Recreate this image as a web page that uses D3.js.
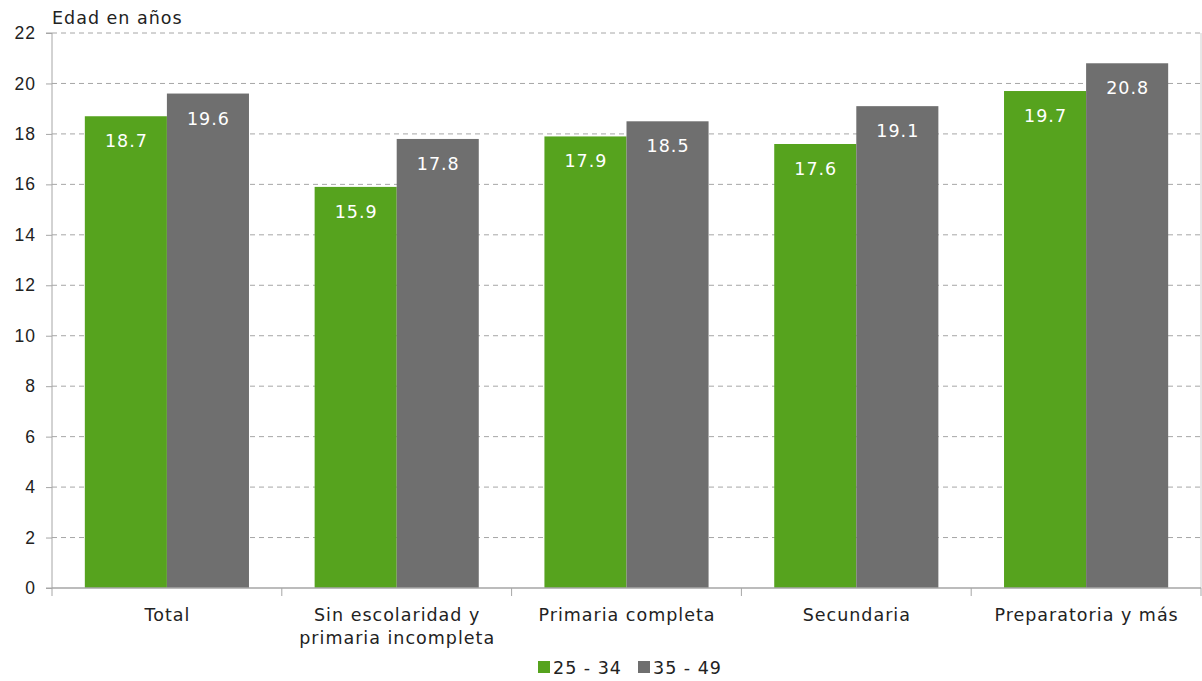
<!DOCTYPE html>
<html><head><meta charset="utf-8">
<script src="https://cdn.jsdelivr.net/npm/d3@7"></script>
<style>body{margin:0;background:#fff}svg{display:block;font-family:"DejaVu Sans",sans-serif}</style>
</head><body><svg id="c" width="1202" height="681"></svg>
<script>
const categories = [["Total"],["Sin escolaridad y","primaria incompleta"],["Primaria completa"],["Secundaria"],["Preparatoria y más"]];
const seriesNames = ["25 - 34","35 - 49"];
const s1 = [18.7,15.9,17.9,17.6,19.7];
const s2 = [19.6,17.8,18.5,19.1,20.8];
const yTicks = [0,2,4,6,8,10,12,14,16,18,20,22];
const colors = ["#56a31e","#6f6f6f"];

const FS = 17.5;
const LS = "1px";
const svg = d3.select("#c");
const L=52,R=1201,T=33,B=588;
const x = d3.scaleBand().domain(d3.range(categories.length)).range([L,R]).paddingInner(0).paddingOuter(0);
const y = d3.scaleLinear().domain([0,22]).range([B,T]);
const inner = d3.scaleBand().domain([0,1]).range([0,x.bandwidth()]).paddingOuter(0.4).paddingInner(0);

// gridlines
svg.append("g").selectAll("line").data(yTicks.filter(d=>d>0)).join("line")
 .attr("x1",L).attr("x2",R).attr("y1",d=>y(d)).attr("y2",d=>y(d))
 .attr("stroke","#a6a6a6").attr("stroke-width",1).attr("stroke-dasharray","5,4");
svg.append("line").attr("x1",R).attr("x2",R).attr("y1",T).attr("y2",B).attr("stroke","#d0d0d0");

// bars
const series=[s1,s2];
series.forEach((s,si)=>{
  svg.append("g").selectAll("rect").data(s).join("rect")
   .attr("x",(d,i)=>x(i)+inner(si)).attr("width",inner.bandwidth())
   .attr("y",d=>y(d)).attr("height",d=>B-y(d)).attr("fill",colors[si]);
  svg.append("g").selectAll("text").data(s).join("text")
   .attr("x",(d,i)=>x(i)+inner(si)+inner.bandwidth()/2+0.5).attr("y",d=>y(d)+31)
   .attr("text-anchor","middle").attr("fill","#fff").attr("font-size",FS).style("letter-spacing",LS)
   .text(d=>d.toFixed(1));
});

// y axis
const ya = d3.axisLeft(y).tickValues(yTicks).tickSize(6).tickPadding(10).tickFormat(d3.format("d"));
const gy = svg.append("g").attr("transform",`translate(${L},0)`).call(ya);
gy.selectAll("line,path").attr("stroke","#a6a6a6");
gy.select(".domain").attr("d",`M-6,${T}H0V${B}H-6`);
gy.selectAll("text").attr("font-size",FS).attr("fill","#222").style("font-family","inherit").style("letter-spacing",LS);

// x axis
svg.append("line").attr("x1",L).attr("x2",R).attr("y1",B).attr("y2",B).attr("stroke","#a6a6a6").attr("stroke-width",1.5);
svg.append("g").selectAll("line").data(d3.range(categories.length+1)).join("line")
 .attr("x1",d=>d<categories.length?x(d):R).attr("x2",d=>d<categories.length?x(d):R)
 .attr("y1",B).attr("y2",B+8).attr("stroke","#a6a6a6");
const cl = svg.append("g").selectAll("text").data(categories).join("text")
 .attr("x",(d,i)=>x(i)+x.bandwidth()/2+0.5).attr("y",621).attr("text-anchor","middle")
 .attr("font-size",FS).attr("fill","#222").style("letter-spacing",LS);
cl.each(function(d){
  d3.select(this).selectAll("tspan").data(d).join("tspan")
   .attr("x",d3.select(this).attr("x")).attr("dy",(t,j)=>j?23:0).text(t=>t);
});

// title
svg.append("text").attr("x",52).attr("y",24).attr("font-size",FS).attr("fill","#222").style("letter-spacing",LS).text("Edad en años");

// legend
const lg = svg.append("g");
const lx=[538,638];
seriesNames.forEach((n,i)=>{
  lg.append("rect").attr("x",lx[i]).attr("y",661).attr("width",12).attr("height",12).attr("fill",colors[i]);
  lg.append("text").attr("x",lx[i]+15).attr("y",674).attr("font-size",FS).attr("fill","#222").style("letter-spacing",LS).text(n);
});
</script></body></html>
